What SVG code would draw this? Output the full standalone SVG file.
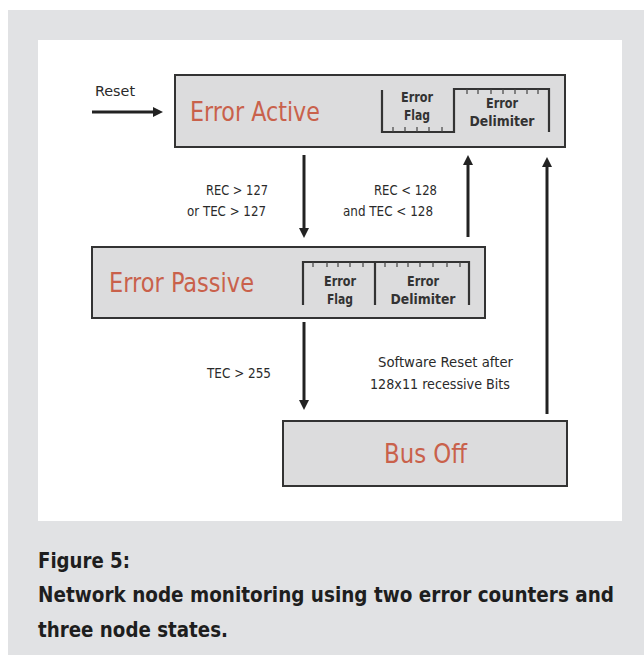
<svg xmlns="http://www.w3.org/2000/svg" width="644" height="660" viewBox="0 0 644 660">
<style>
.lbl{font-family:"DejaVu Sans Condensed","Liberation Sans Narrow","Liberation Sans",sans-serif;font-size:14px;fill:#2a2a2a}
.big{font-family:"DejaVu Sans Condensed","Liberation Sans Narrow","Liberation Sans",sans-serif;font-size:26px;fill:#c9614b}
.fld{font-family:"DejaVu Sans Condensed","Liberation Sans Narrow","Liberation Sans",sans-serif;font-size:14px;font-weight:bold;fill:#333}
.cap{font-family:"DejaVu Sans Condensed","Liberation Sans Narrow","Liberation Sans",sans-serif;font-size:21px;font-weight:bold;fill:#1e1e1e}
.box{fill:#dcdcdd;stroke:#333;stroke-width:2}
.brk{fill:none;stroke:#333;stroke-width:2.2}
.tick{fill:none;stroke:#444;stroke-width:1.2}
.con{fill:none;stroke:#222;stroke-width:3;marker-end:url(#ah)}
</style>
<defs>
<marker id="ah" markerUnits="userSpaceOnUse" viewBox="0 -5 10 10" refX="0" refY="0" markerWidth="10" markerHeight="10" orient="auto">
<path d="M0,-5 L10,0 L0,5 z" fill="#222"/>
</marker>
</defs>
<rect x="0" y="0" width="644" height="660" fill="#ffffff"/>
<rect x="8" y="10" width="640" height="645" fill="#e1e2e4"/>
<rect x="38" y="40" width="584" height="481" fill="#ffffff"/>

<g id="error-active">
<rect class="box" x="175" y="75" width="390" height="72"/>
<text class="big" x="190" y="121" textLength="130" lengthAdjust="spacingAndGlyphs">Error Active</text>
<path class="brk" d="M382,90 V132 H454 V89 H549 V132"/>
<path class="tick" d="M393,132 v-5 M405,132 v-5 M417,132 v-5 M429,132 v-5 M442,132 v-5 M467,89 v5 M478,89 v5 M491,89 v5 M503,89 v5 M515,89 v5 M527,89 v5 M538,89 v5"/>
<text class="fld" x="417" y="102" text-anchor="middle" textLength="32" lengthAdjust="spacingAndGlyphs">Error</text>
<text class="fld" x="417" y="120" text-anchor="middle" textLength="26" lengthAdjust="spacingAndGlyphs">Flag</text>
<text class="fld" x="502" y="108" text-anchor="middle" textLength="32" lengthAdjust="spacingAndGlyphs">Error</text>
<text class="fld" x="502" y="126" text-anchor="middle" textLength="65" lengthAdjust="spacingAndGlyphs">Delimiter</text>
</g>

<g id="error-passive">
<rect class="box" x="92" y="247" width="393" height="71"/>
<text class="big" x="109" y="292" textLength="145" lengthAdjust="spacingAndGlyphs">Error Passive</text>
<path class="brk" d="M303,305 V262 H469 V305 M375,262 V305"/>
<path class="tick" d="M313,262 v5 M327,262 v5 M338,262 v5 M350,262 v5 M363,262 v5 M385,262 v5 M397,262 v5 M408,262 v5 M420,262 v5 M433,262 v5 M447,262 v5 M460,262 v5"/>
<text class="fld" x="340" y="286" text-anchor="middle" textLength="32" lengthAdjust="spacingAndGlyphs">Error</text>
<text class="fld" x="340" y="304" text-anchor="middle" textLength="26" lengthAdjust="spacingAndGlyphs">Flag</text>
<text class="fld" x="423" y="286" text-anchor="middle" textLength="32" lengthAdjust="spacingAndGlyphs">Error</text>
<text class="fld" x="423" y="304" text-anchor="middle" textLength="65" lengthAdjust="spacingAndGlyphs">Delimiter</text>
</g>

<g id="bus-off">
<rect class="box" x="283" y="421" width="284" height="65"/>
<text class="big" x="384" y="463" textLength="83" lengthAdjust="spacingAndGlyphs">Bus Off</text>
</g>

<g id="connectors">
<line class="con" x1="92" y1="112" x2="153" y2="112"/>
<line class="con" x1="304" y1="155" x2="304" y2="228"/>
<line class="con" x1="468" y1="237" x2="468" y2="165"/>
<line class="con" x1="304" y1="322" x2="304" y2="400"/>
<line class="con" x1="547" y1="414" x2="547" y2="167"/>
</g>

<g id="labels">
<text class="lbl" x="95" y="96" font-size="15" textLength="40" lengthAdjust="spacingAndGlyphs">Reset</text>
<text class="lbl" x="268" y="195" text-anchor="end" textLength="62" lengthAdjust="spacingAndGlyphs">REC &gt; 127</text>
<text class="lbl" x="266" y="216" text-anchor="end" textLength="79" lengthAdjust="spacingAndGlyphs">or TEC &gt; 127</text>
<text class="lbl" x="437" y="195" text-anchor="end" textLength="63" lengthAdjust="spacingAndGlyphs">REC &lt; 128</text>
<text class="lbl" x="433" y="216" text-anchor="end" textLength="90" lengthAdjust="spacingAndGlyphs">and TEC &lt; 128</text>
<text class="lbl" x="207" y="378" textLength="64" lengthAdjust="spacingAndGlyphs">TEC &gt; 255</text>
<text class="lbl" x="378" y="367" textLength="135" lengthAdjust="spacingAndGlyphs">Software Reset after</text>
<text class="lbl" x="370" y="389" textLength="140" lengthAdjust="spacingAndGlyphs">128x11 recessive Bits</text>
</g>

<g id="caption">
<text class="cap" x="38" y="568" textLength="92" lengthAdjust="spacingAndGlyphs">Figure 5:</text>
<text class="cap" x="38" y="602" textLength="576" lengthAdjust="spacingAndGlyphs">Network node monitoring using two error counters and</text>
<text class="cap" x="38" y="637" textLength="190" lengthAdjust="spacingAndGlyphs">three node states.</text>
</g>
</svg>
